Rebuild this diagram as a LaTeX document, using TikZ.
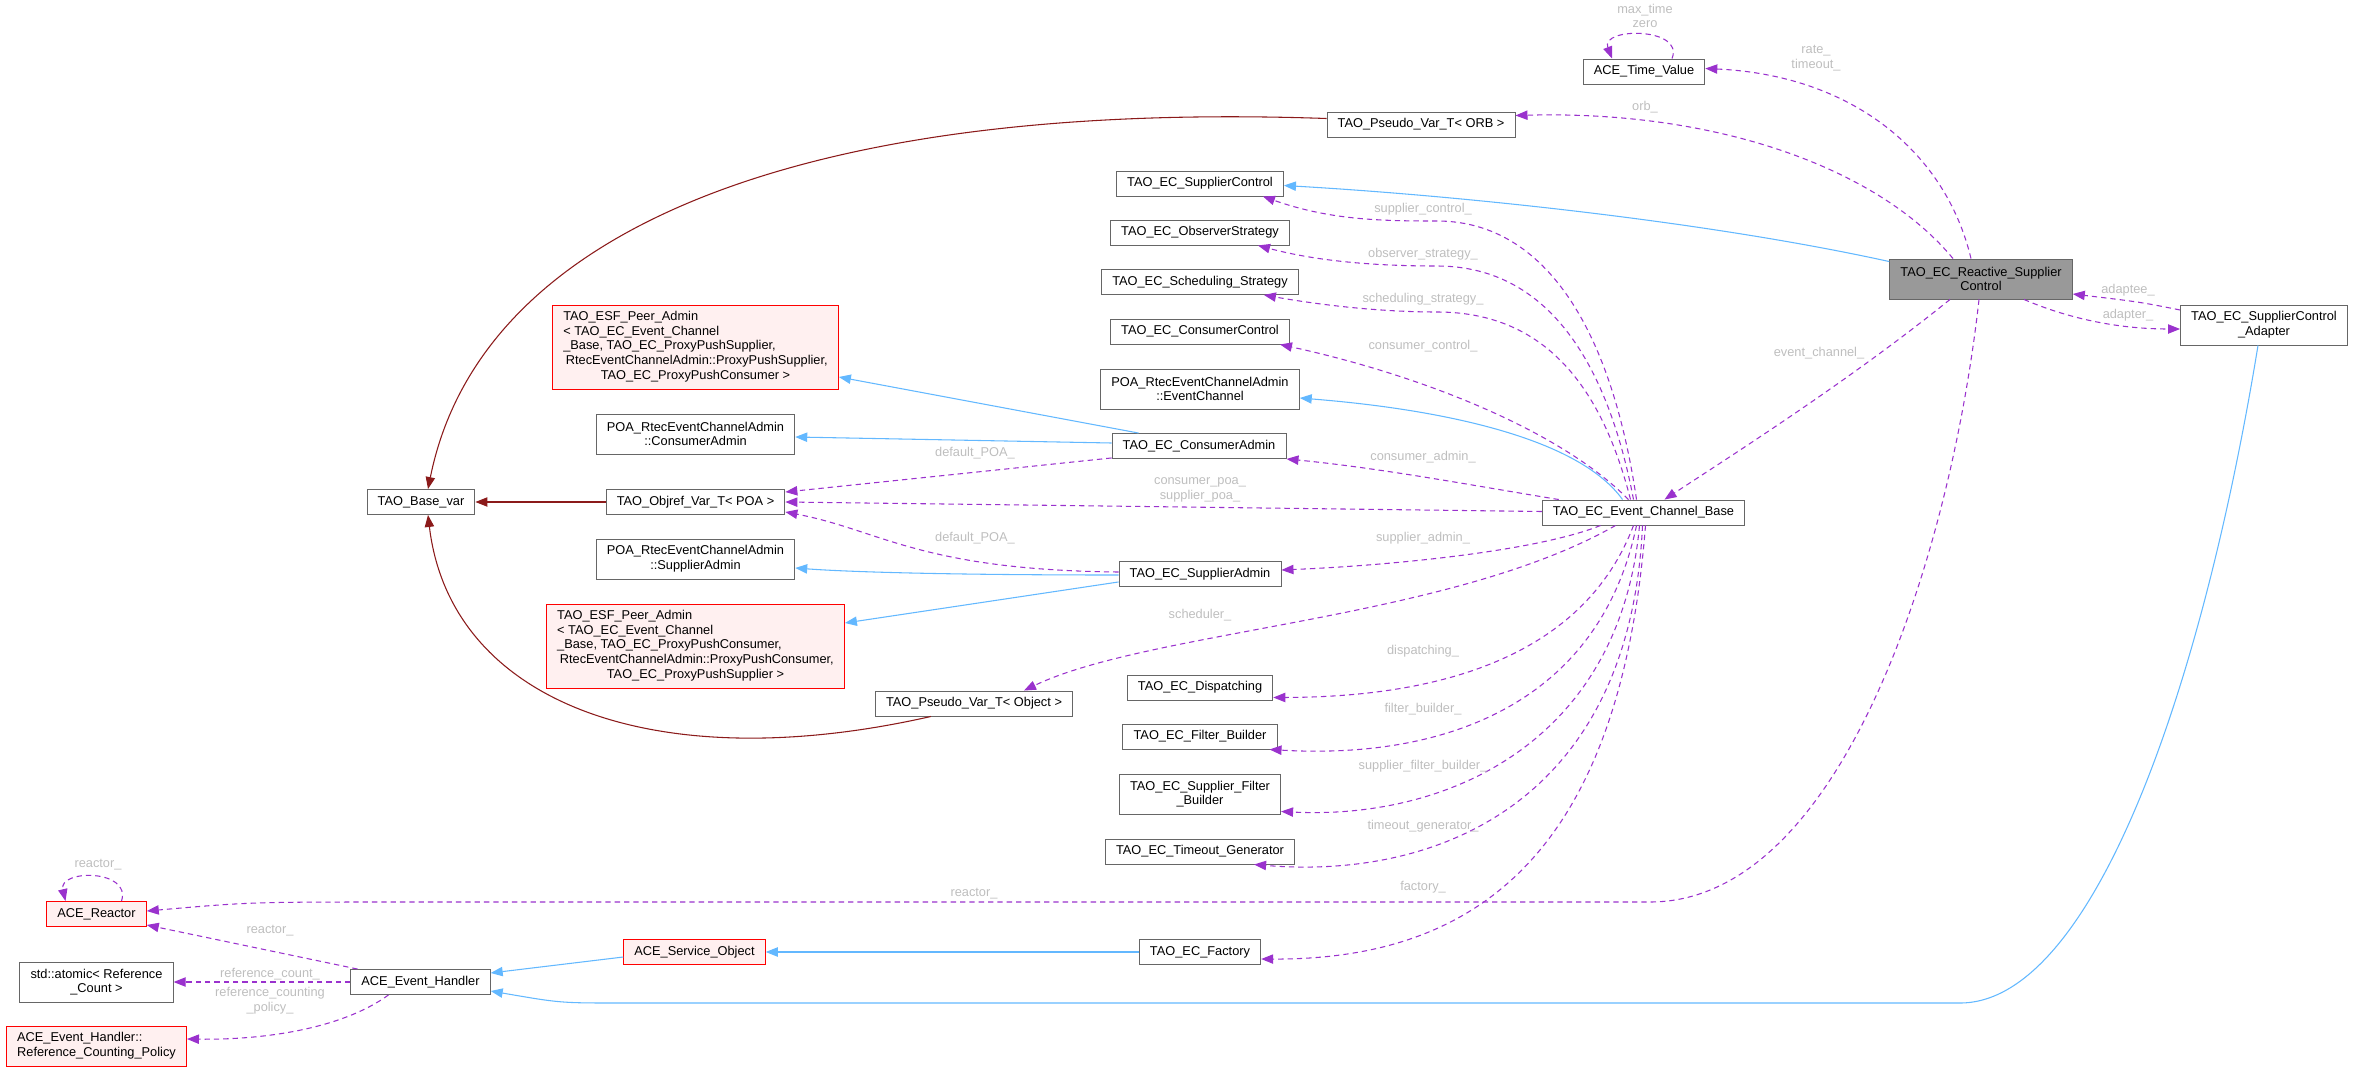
\documentclass[tikz,border=0pt]{standalone}
\usepackage{fontspec}
\setmainfont{Liberation Sans}
\usetikzlibrary{arrows.meta,calc}
\definecolor{edgeblue}{HTML}{63B8FF}
\definecolor{edgepurple}{HTML}{9A32CD}
\definecolor{edgebrown}{HTML}{8B1A1A}
\definecolor{boxgray}{HTML}{666666}
\definecolor{rootgray}{HTML}{999999}
\definecolor{undocfill}{HTML}{FFF0F0}
\definecolor{labelgray}{HTML}{BEBEBE}

\begin{document}
\begin{tikzpicture}[x=0.75pt,y=-0.75pt,font=\fontsize{9.6}{11}\selectfont,
    cls/.style={draw=boxgray,fill=white,line width=0.7pt,inner xsep=8pt,inner ysep=1pt,minimum height=18.75pt,align=center},
    two/.style={minimum height=30pt},
    undoc/.style={draw=red,fill=undocfill},
    usage/.style={edgepurple,line width=0.8pt,dash pattern=on 4pt off 3pt,-{Triangle[length=9pt,width=7pt]}},
    inherit/.style={edgeblue,line width=0.8pt,-{Triangle[length=9pt,width=7pt]}},
    tmpl/.style={edgebrown,line width=0.8pt,-{Triangle[length=9pt,width=7pt]}},
    lbl/.style={text=labelgray,inner sep=0pt,align=center}]
\useasboundingbox (0,0) rectangle (2353,1071);

% classes
\node[cls] (tv) at (1644,71.5) {ACE\_Time\_Value};
\node[cls] (orb) at (1421,124.5) {TAO\_Pseudo\_Var\_T< ORB >};
\node[cls,two,fill=rootgray] (rsc) at (1981,279) {TAO\_EC\_Reactive\_Supplier\\Control};
\node[cls,two] (adp) at (2264,325) {TAO\_EC\_SupplierControl\\\_Adapter};
\node[cls] (sc) at (1200,183.5) {TAO\_EC\_SupplierControl};
\node[cls] (os) at (1200,232.5) {TAO\_EC\_ObserverStrategy};
\node[cls] (ss) at (1200,282) {TAO\_EC\_Scheduling\_Strategy};
\node[cls] (cc) at (1200,331.5) {TAO\_EC\_ConsumerControl};
\node[cls,two] (poaec) at (1200,389) {POA\_RtecEventChannelAdmin\\::EventChannel};
\node[cls] (ca) at (1199,446) {TAO\_EC\_ConsumerAdmin};
\node[cls] (ecb) at (1643.5,512.5) {TAO\_EC\_Event\_Channel\_Base};
\node[cls] (sa) at (1200,574) {TAO\_EC\_SupplierAdmin};
\node[cls] (dsp) at (1200,687.5) {TAO\_EC\_Dispatching};
\node[cls] (fb) at (1200,736.5) {TAO\_EC\_Filter\_Builder};
\node[cls,two] (sfb) at (1200,794) {TAO\_EC\_Supplier\_Filter\\\_Builder};
\node[cls] (tg) at (1200,851.5) {TAO\_EC\_Timeout\_Generator};
\node[cls] (fac) at (1200,952) {TAO\_EC\_Factory};
\node[cls,undoc,minimum height=63pt] (esfs) at (695.5,347) {\begin{tabular}{@{}l@{}}TAO\_ESF\_Peer\_Admin\\< TAO\_EC\_Event\_Channel\\\_Base, TAO\_EC\_ProxyPushSupplier,\\\hspace{2pt}RtecEventChannelAdmin::ProxyPushSupplier,\\\multicolumn{1}{@{}c@{}}{TAO\_EC\_ProxyPushConsumer >}\end{tabular}};
\node[cls,two] (poaca) at (695.5,434) {POA\_RtecEventChannelAdmin\\::ConsumerAdmin};
\node[cls] (objref) at (695.5,502) {TAO\_Objref\_Var\_T< POA >};
\node[cls,two] (poasa) at (695.5,559) {POA\_RtecEventChannelAdmin\\::SupplierAdmin};
\node[cls,undoc,minimum height=63pt] (esfc) at (695.5,646) {\begin{tabular}{@{}l@{}}TAO\_ESF\_Peer\_Admin\\< TAO\_EC\_Event\_Channel\\\_Base, TAO\_EC\_ProxyPushConsumer,\\\hspace{2pt}RtecEventChannelAdmin::ProxyPushConsumer,\\\multicolumn{1}{@{}c@{}}{TAO\_EC\_ProxyPushSupplier >}\end{tabular}};
\node[cls] (pobj) at (974,703.5) {TAO\_Pseudo\_Var\_T< Object >};
\node[cls] (base) at (421,502) {TAO\_Base\_var};
\node[cls,undoc] (reactor) at (96.5,914) {ACE\_Reactor};
\node[cls] (eh) at (420.5,982) {ACE\_Event\_Handler};
\node[cls,undoc] (aso) at (694.5,952) {ACE\_Service\_Object};
\node[cls,two] (atom) at (96.5,982) {std::atomic< Reference\\\_Count >};
\node[cls,two,undoc,align=left] (rcp) at (96.5,1046) {ACE\_Event\_Handler::\\Reference\_Counting\_Policy};

% edges of the reactive control
\draw[usage] ($(rsc.north)+(-10,0)$) .. controls (1945,150) and (1850,75) .. ($(tv.east)+(0,-3)$);
\draw[usage] ($(rsc.north)+(-28,0)$) .. controls (1880,170) and (1720,110) .. ($(orb.east)+(0,-9)$);
\draw[inherit] ($(rsc.north west)+(0,3)$) .. controls (1700,220) and (1450,195) .. ($(sc.east)+(0,2)$);
\draw[usage] ($(adp.west)+(0,-15)$) .. controls (2140,302) .. ($(rsc.east)+(0,15)$);
\draw[usage] ($(rsc.south)+(43,0)$) .. controls (2060,315) and (2110,329) .. ($(adp.west)+(0,4)$);
\draw[usage] ($(rsc.south)+(-31,0)$) .. controls (1850,380) and (1740,450) .. ($(ecb.north)+(21,0)$);
\draw[usage] ($(rsc.south)+(-2,0)$) .. controls (1950,560) and (1840,902) .. (1650,902) -- (400,902) .. controls (250,902) .. ($(reactor.east)+(0,-3)$);
\draw[inherit] ($(adp.south)+(-6,0)$) .. controls (2200,700) and (2090,1003) .. (1960,1003) -- (620,1003) .. controls (560,1003) .. ($(eh.east)+(0,9)$);

% edges of the event channel
\draw[usage] ($(ecb.north)+(-7,0)$) .. controls (1610,320) and (1540,221) .. (1437,221) .. controls (1380,221) and (1330,220) .. ($(sc.south east)+(-21,0)$);
\draw[usage] ($(ecb.north)+(-10,0)$) .. controls (1605,350) and (1540,266) .. (1437,266) .. controls (1380,266) and (1320,262) .. ($(os.south east)+(-32,0)$);
\draw[usage] ($(ecb.north)+(-13,0)$) .. controls (1600,380) and (1540,312) .. (1437,312) .. controls (1380,312) and (1320,305) .. ($(ss.south east)+(-35,0)$);
\draw[usage] ($(ecb.north)+(-15,0)$) .. controls (1560,430) and (1420,375) .. ($(cc.south east)+(-10,0)$);
\draw[inherit] ($(ecb.north)+(-21,0)$) .. controls (1580,440) and (1450,410) .. ($(poaec.east)+(0,9)$);
\draw[usage] ($(ecb.north west)+(17,0)$) .. controls (1470,485) and (1380,468) .. (ca.south east);
\draw[usage] ($(ecb.west)+(0,-1)$) -- (objref.east);
\draw[usage] ($(ecb.south)+(-43,0)$) .. controls (1540,550) and (1400,565) .. ($(sa.east)+(0,-4)$);
\draw[usage] ($(ecb.south)+(-28,0)$) .. controls (1450,620) and (1150,630) .. ($(pobj.north)+(50,0)$);
\draw[usage] ($(ecb.south)+(-10,0)$) .. controls (1590,640) and (1470,697) .. ($(dsp.east)+(0,10)$);
\draw[usage] ($(ecb.south)+(-7,0)$) .. controls (1600,700) and (1450,760) .. ($(fb.south east)+(-8,0)$);
\draw[usage] ($(ecb.south)+(-4,0)$) .. controls (1620,740) and (1450,820) .. ($(sfb.south east)+(0,-3)$);
\draw[usage] ($(ecb.south)+(-1,0)$) .. controls (1630,800) and (1440,880) .. ($(tg.south east)+(-41,0)$);
\draw[usage] ($(ecb.south)+(2,0)$) .. controls (1620,850) and (1480,960) .. ($(fac.east)+(0,7)$);

% admins
\draw[inherit] ($(ca.west)+(0,-3)$) -- ($(poaca.east)+(0,3)$);
\draw[inherit] ($(ca.north west)+(27,0)$) -- ($(esfs.east)+(0,30)$);
\draw[usage] ($(ca.south west)+(0,-1)$) -- ($(objref.north east)+(0,3)$);
\draw[inherit] ($(sa.west)+(0,1)$) .. controls (950,575) and (850,572) .. ($(poasa.east)+(0,9)$);
\draw[inherit] ($(sa.south west)+(0,-5)$) -- ($(esfc.east)+(0,-23)$);
\draw[usage] ($(sa.west)+(0,-2)$) .. controls (920,570) and (880,530) .. ($(objref.south east)+(0,-3)$);

% templates
\draw[tmpl] ($(orb.west)+(0,-6)$) .. controls (800,100) and (480,230) .. ($(base.north)+(7,0)$);
\draw[tmpl] ($(pobj.south west)+(56,0)$) .. controls (650,780) and (450,700) .. ($(base.south)+(7,0)$);
\draw[tmpl] (objref.west) -- (base.east);

% event handler
\draw[usage] ($(eh.north)+(-63,0)$) -- ($(reactor.south east)+(0,-2)$);
\draw[usage] (eh.west) -- (atom.east);
\draw[usage] ($(eh.south)+(-32,0)$) .. controls (340,1030) and (260,1040) .. ($(rcp.east)+(0,-7)$);
\draw[inherit] ($(aso.west)+(0,5)$) -- ($(eh.east)+(0,-9)$);
\draw[inherit] (fac.west) -- (aso.east);

% self loops
\draw[usage] ($(tv.north)+(28,0)$) .. controls (1685,27) and (1600,27) .. ($(tv.north)+(-32,0)$);
\draw[usage] ($(reactor.north)+(25,0)$) .. controls (132,869) and (58,869) .. ($(reactor.north)+(-31,0)$);

% labels
\node[lbl] (ltv) at (1645,16) {max\_time\\zero};
\node[lbl] (lrt) at (1816,58) {rate\_\\timeout\_};
\node[lbl] (lorb) at (1645,107) {orb\_};
\node[lbl] (lade) at (2128,290) {adaptee\_};
\node[lbl] (ladr) at (2128,315) {adapter\_};
\node[lbl] (lec) at (1819,353) {event\_channel\_};
\node[lbl] (lsc) at (1423,209) {supplier\_control\_};
\node[lbl] (los) at (1423,254) {observer\_strategy\_};
\node[lbl] (lss) at (1423,299) {scheduling\_strategy\_};
\node[lbl] (lcc) at (1423,346) {consumer\_control\_};
\node[lbl] (lca) at (1423,457) {consumer\_admin\_};
\node[lbl] (lpoa) at (1200,490) {consumer\_poa\_\\supplier\_poa\_};
\node[lbl] (lsa) at (1423,538) {supplier\_admin\_};
\node[lbl] (ldp1) at (975,453) {default\_POA\_};
\node[lbl] (ldp2) at (975,538) {default\_POA\_};
\node[lbl] (lsch) at (1200,615) {scheduler\_};
\node[lbl] (ldsp) at (1423,651) {dispatching\_};
\node[lbl] (lfb) at (1423,709) {filter\_builder\_};
\node[lbl] (lsfb) at (1423,766) {supplier\_filter\_builder\_};
\node[lbl] (ltg) at (1423,826) {timeout\_generator\_};
\node[lbl] (lfac) at (1423,887) {factory\_};
\node[lbl] (lrea) at (974,894) {reactor\_};
\node[lbl] (lrr) at (98,865) {reactor\_};
\node[lbl] (lehr) at (270,931) {reactor\_};
\node[lbl] (lrc) at (270,974) {reference\_count\_};
\node[lbl] (lrcp) at (270,1001) {reference\_counting\\\_policy\_};
\end{tikzpicture}
\end{document}
